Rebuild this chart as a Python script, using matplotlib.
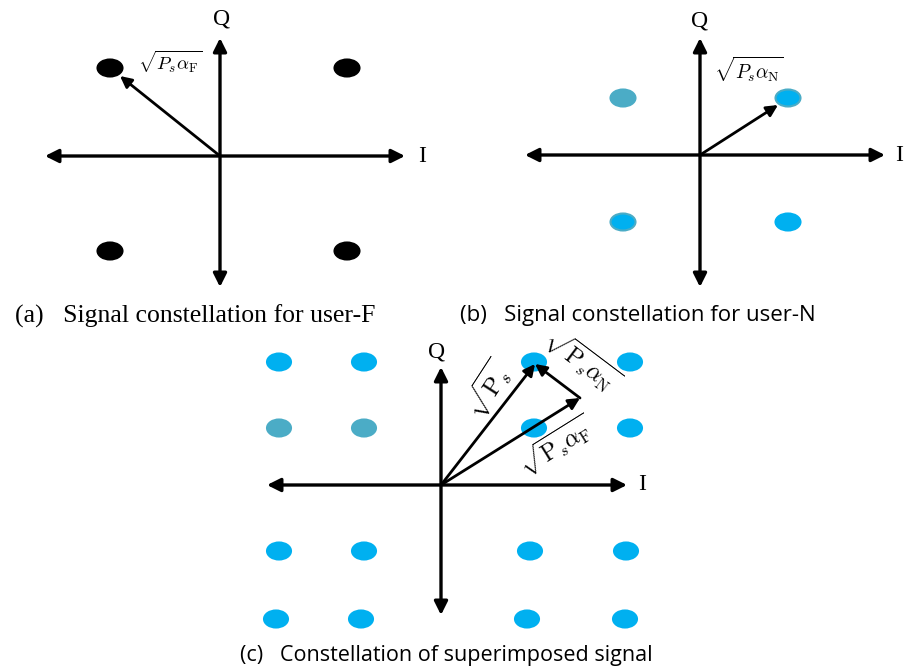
import matplotlib
matplotlib.use('Agg')
import matplotlib.pyplot as plt
from matplotlib.patches import Ellipse

plt.rcParams['mathtext.fontset'] = 'cm'

W, H = 907, 666
TEAL = '#4BACC6'
BLUE = '#00B0F0'

# panel (a): user-F constellation (units: 100 px from origin)
a_I = [-1.10, 1.27, -1.10, 1.27]
a_Q = [0.88, 0.88, -0.95, -0.95]
a_vec = (-1.00, 0.80)

# panel (b): user-N constellation
b_I = [-0.77, 0.88, -0.77, 0.88]
b_Q = [0.57, 0.57, -0.67, -0.67]
b_face = [TEAL, BLUE, BLUE, BLUE]
b_edge = [TEAL, TEAL, TEAL, BLUE]
b_vec = (0.78, 0.50)

# panel (c): superimposed 16-point constellation
c_I = [-1.62, -0.77, 0.93, 1.89,
       -1.62, -0.77, 0.93, 1.89,
       -1.62, -0.77, 0.89, 1.85,
       -1.65, -0.80, 0.86, 1.84]
c_Q = [1.23, 1.23, 1.23, 1.23,
       0.57, 0.57, 0.57, 0.57,
       -0.66, -0.66, -0.66, -0.66,
       -1.34, -1.34, -1.34, -1.34]
c_face = [BLUE] * 4 + [TEAL, TEAL, BLUE, BLUE] + [BLUE] * 8
c_vec_s = (0.94, 1.21)
c_vec_f = (1.39, 0.87)


def panel(fig, px0, py0, px1, py1, ox, oy):
    # axes over a pixel box, data unit = 100 px, origin at (ox, oy)
    ax = fig.add_axes([px0 / W, 1 - py1 / H, (px1 - px0) / W, (py1 - py0) / H])
    ax.set_xlim((px0 - ox) / 100, (px1 - ox) / 100)
    ax.set_ylim((oy - py1) / 100, (oy - py0) / 100)
    ax.axis('off')
    return ax


def iq_axes(ax, xl, xr, yb, yt, I_pos, Q_pos):
    ap = dict(arrowstyle='<|-|>', lw=2.4, color='black', mutation_scale=20,
              shrinkA=0, shrinkB=0)
    ax.annotate('', xy=(xr, 0), xytext=(xl, 0), arrowprops=ap)
    ax.annotate('', xy=(0, yt), xytext=(0, yb), arrowprops=ap)
    ax.text(I_pos[0], I_pos[1], 'I', family='Liberation Serif', fontsize=17,
            ha='center', va='center', clip_on=False)
    ax.text(Q_pos[0], Q_pos[1], 'Q', family='Liberation Serif', fontsize=17,
            ha='center', va='center', clip_on=False)


def vec(ax, start, end):
    ax.annotate('', xy=end, xytext=start,
                arrowprops=dict(arrowstyle='-|>', lw=2.0, color='black',
                                mutation_scale=17, shrinkA=0, shrinkB=0))


def dots(ax, xs, ys, face, edge, w=0.25, h=0.17):
    for x, y, fc, ec in zip(xs, ys, face, edge):
        ax.add_patch(Ellipse((x, y), w, h, facecolor=fc, edgecolor=ec, lw=1.5))


fig = plt.figure(figsize=(W / 100, H / 100), dpi=100)

# (a)
ax = panel(fig, 0, 0, 450, 300, 220, 156)
dots(ax, a_I, a_Q, ['black'] * 4, ['black'] * 4)
iq_axes(ax, -1.75, 1.85, -1.31, 1.18, (2.02, 0.0), (0.02, 1.37))
vec(ax, (0, 0), a_vec)
ax.text(-0.82, 0.94, r'$\sqrt{P_s\alpha_{\rm F}}$', fontsize=13.5, ha='left', va='center')

# (b)
ax = panel(fig, 450, 0, 907, 300, 700, 155)
dots(ax, b_I, b_Q, b_face, b_edge)
iq_axes(ax, -1.75, 1.85, -1.32, 1.17, (1.99, 0.0), (0.0, 1.34))
vec(ax, (0, 0), b_vec)
ax.text(0.14, 0.86, r'$\sqrt{P_s\alpha_{\rm N}}$', fontsize=14, ha='left', va='center')

# (c)
ax = panel(fig, 230, 330, 680, 666, 441, 485)
dots(ax, c_I, c_Q, c_face, c_face, w=0.24, h=0.17)
iq_axes(ax, -1.74, 1.86, -1.30, 1.18, (2.01, 0.0), (-0.04, 1.33))
vec(ax, (0, 0), c_vec_s)
vec(ax, (0, 0), c_vec_f)
vec(ax, c_vec_f, c_vec_s)
ax.text(0.47, 0.95, r'$\sqrt{\mathrm{P}_s}$', fontsize=18, rotation=57,
        ha='center', va='center')
ax.text(1.15, 0.39, r'$\sqrt{\mathrm{P}_s\alpha_{\rm F}}$', fontsize=17, rotation=32,
        ha='center', va='center')
ax.text(1.41, 1.24, r'$\sqrt{\mathrm{P}_s\alpha_{\rm N}}$', fontsize=17, rotation=-37,
        ha='center', va='center')

# captions
fig.text(15 / W, 1 - 316 / H, '(a)   Signal constellation for user-F',
         family='Liberation Serif', fontsize=18.5, va='center')
fig.text(460 / W, 1 - 316 / H, '(b)   Signal constellation for user-N',
         family='Open Sans', fontsize=16, va='center')
fig.text(240 / W, 1 - 655 / H, '(c)   Constellation of superimposed signal',
         family='Open Sans', fontsize=15.5, va='center')

fig.savefig('out.png', dpi=100, facecolor='white')
